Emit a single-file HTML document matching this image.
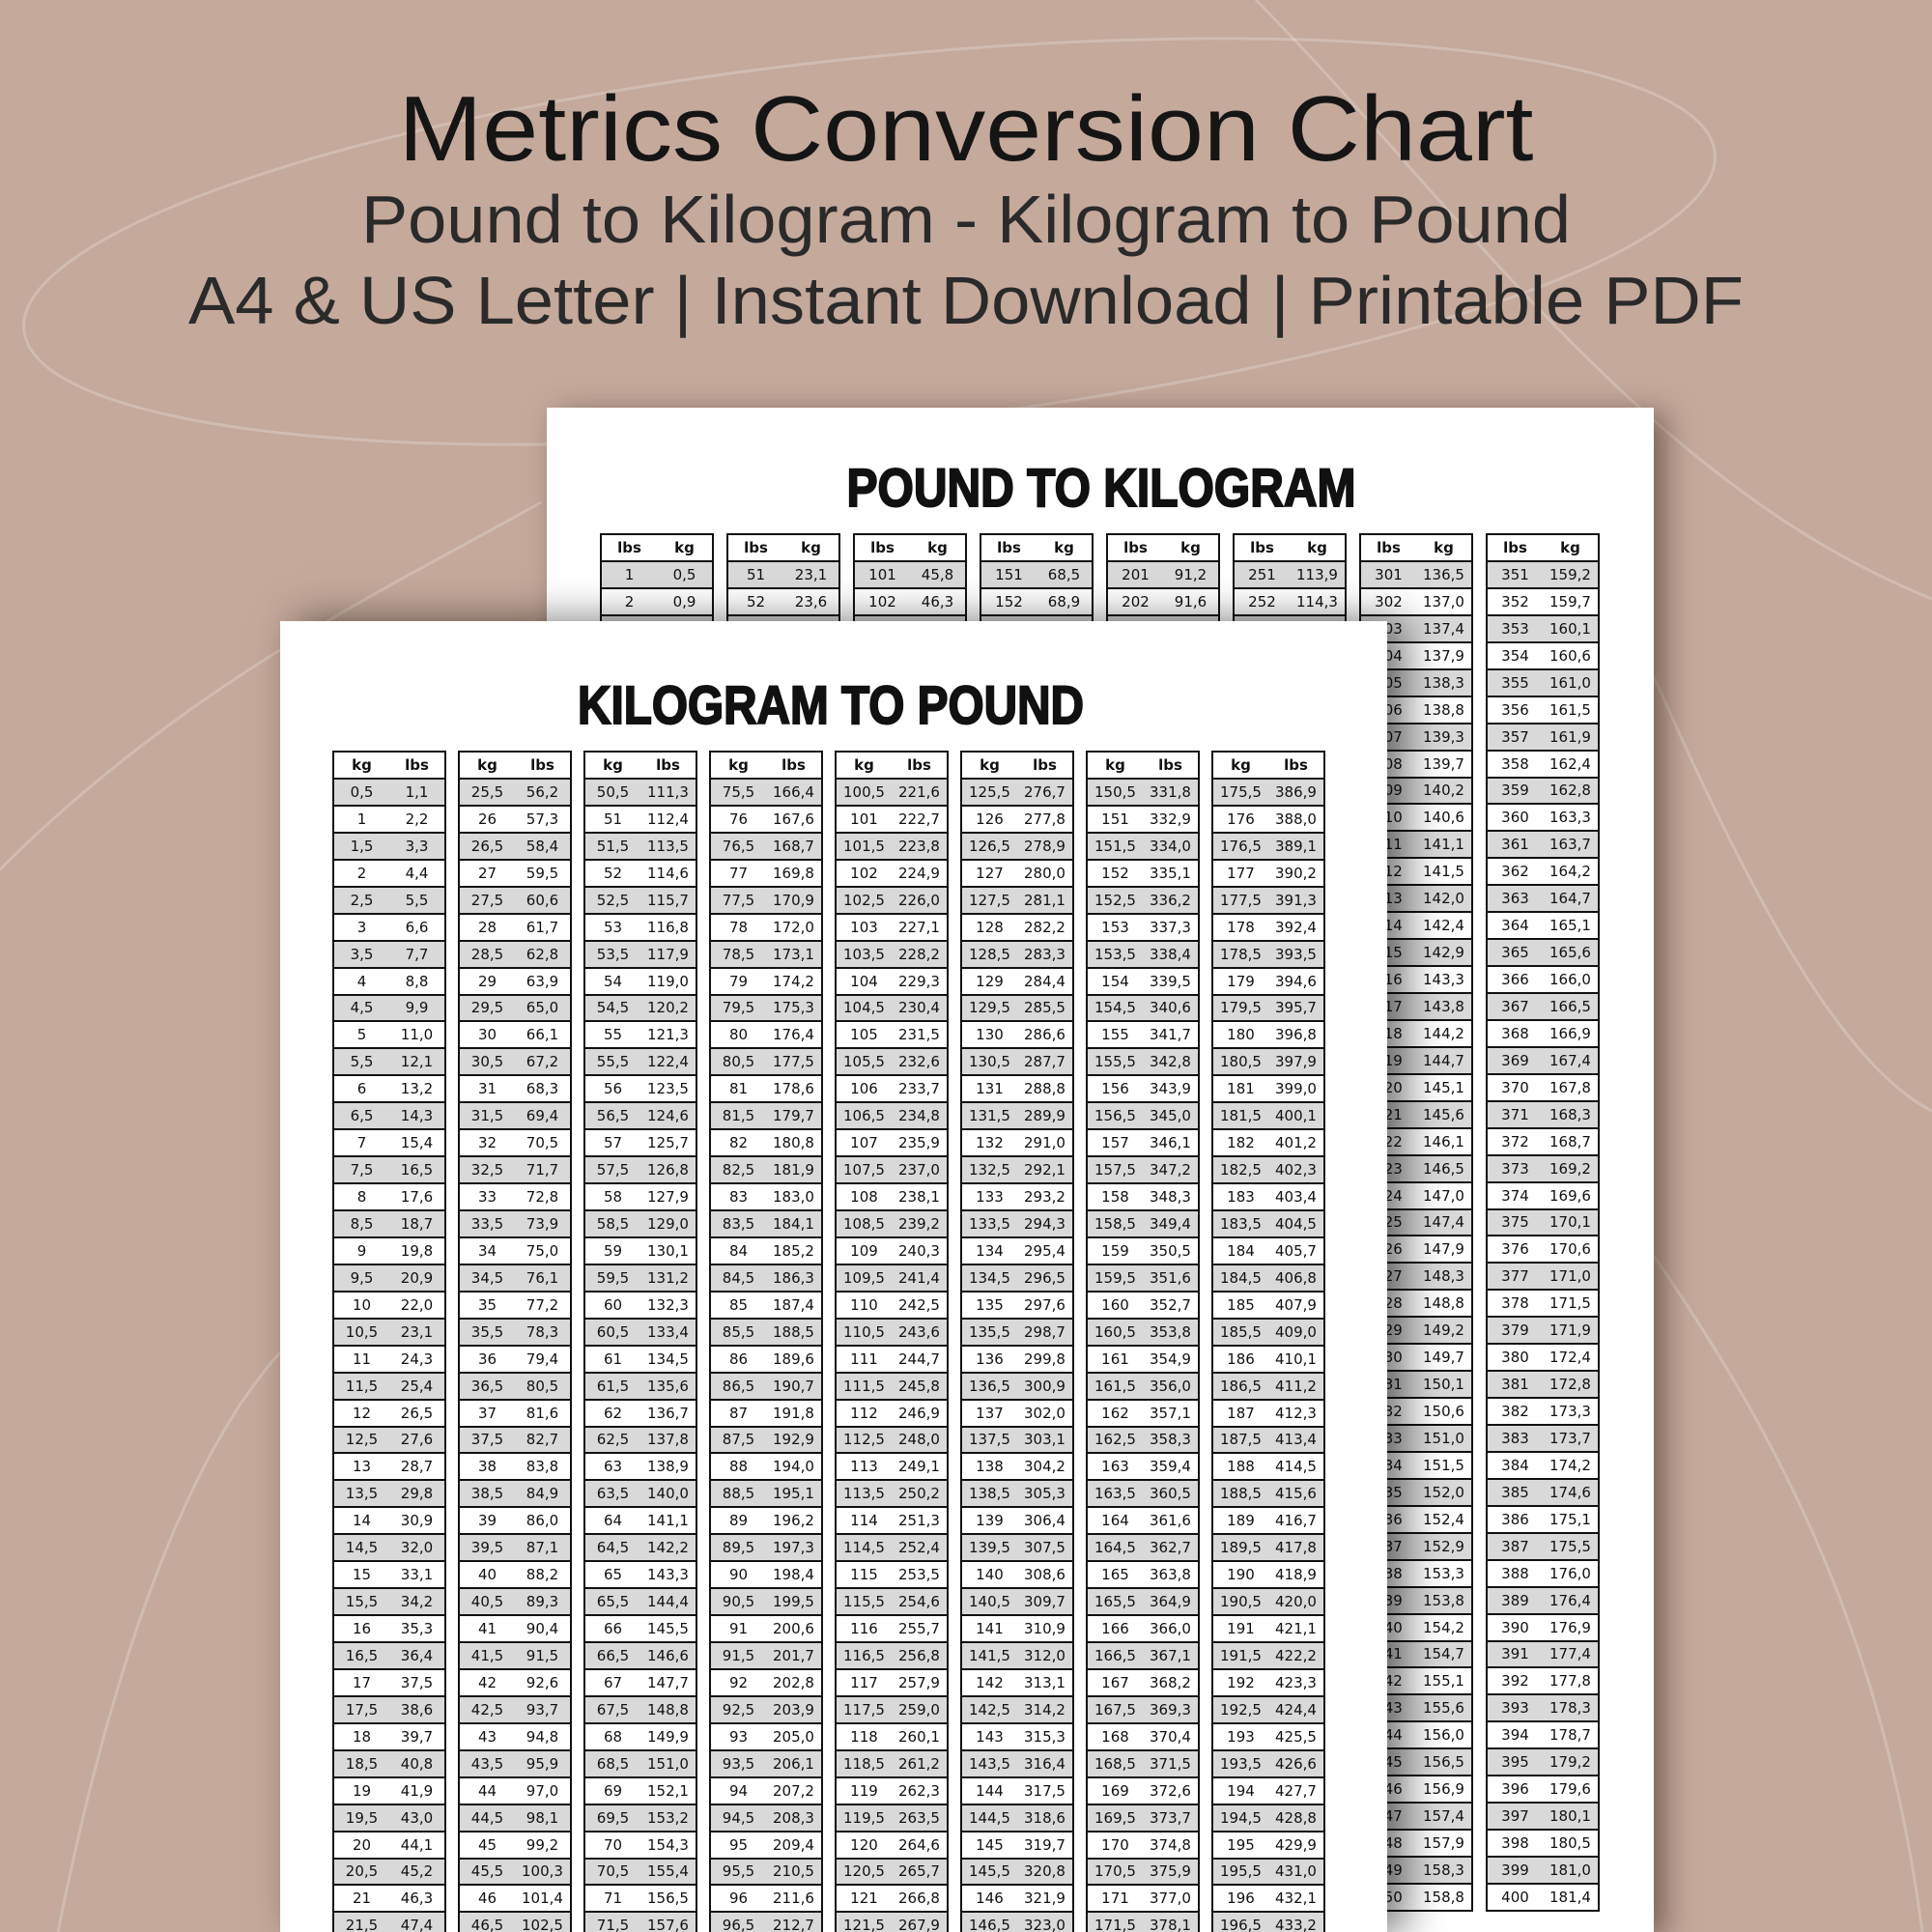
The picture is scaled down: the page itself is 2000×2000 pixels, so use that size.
<!DOCTYPE html>
<html><head><meta charset="utf-8">
<style>
html,body{margin:0;padding:0;overflow:hidden;width:2000px;height:2000px}
body{position:relative;background:#c5a99b;font-family:"DejaVu Sans","Liberation Sans",sans-serif;color:#111}
.pg{position:absolute;background:#fff}
.t{position:absolute;width:118px;box-sizing:border-box;border:2px solid #111;background:#fff;font-size:15px}
.t p{margin:0;display:flex;height:27.95px;box-sizing:border-box;border-top:2px solid #111;align-items:center}
.t p.h{border-top:0;height:26px;font-weight:bold}
.t p:nth-child(even){background:#d9d9d9}
.t i{font-style:normal;width:50%;text-align:center}
svg{position:absolute;left:0;top:0}
#wrap{position:absolute;left:0;top:0;width:2000px;height:2000px;overflow:hidden}
</style></head><body><div id="wrap">
<svg width="2000" height="2000" style="z-index:0">
<g fill="none" stroke="rgba(255,255,255,0.22)" stroke-width="3">
<ellipse cx="900" cy="250" rx="880" ry="190" transform="rotate(-6 900 250)"/>
<path d="M1300 0 C1500 200 1700 500 2000 620"/>
<path d="M0 900 C200 700 420 600 560 520"/>
<path d="M1712 700 C1800 900 1900 1100 2000 1150"/>
<path d="M1712 1300 C1850 1500 1950 1700 1990 2000"/>
<path d="M60 2000 C120 1700 200 1500 290 1400"/>
</g>
<text x="1000" y="166" font-family="Liberation Sans, sans-serif" font-size="96" fill="#151515" text-anchor="middle" textLength="1175" lengthAdjust="spacingAndGlyphs">Metrics Conversion Chart</text>
<text x="1000" y="251" font-family="Liberation Sans, sans-serif" font-size="70" fill="#2a2a2a" text-anchor="middle" textLength="1252" lengthAdjust="spacingAndGlyphs">Pound to Kilogram - Kilogram to Pound</text>
<text x="1000" y="335" font-family="Liberation Sans, sans-serif" font-size="70" fill="#2a2a2a" text-anchor="middle" textLength="1610" lengthAdjust="spacingAndGlyphs">A4 &amp; US Letter | Instant Download | Printable PDF</text>
</svg>

<div class="pg" style="left:566px;top:422px;width:1146px;height:1578px;box-shadow:12px 6px 28px rgba(60,40,30,0.55)"></div>
<svg width="2000" height="2000" style="z-index:0;pointer-events:none">
<text x="1140" y="524" font-family="Liberation Sans, sans-serif" font-weight="bold" font-size="56" fill="#111" text-anchor="middle" textLength="527" lengthAdjust="spacingAndGlyphs" stroke="#111" stroke-width="2">POUND TO KILOGRAM</text>
</svg>

<div class="t" style="left:621px;top:552px"><p class="h"><i>lbs</i><i>kg</i></p><p><i>1</i><i>0,5</i></p><p><i>2</i><i>0,9</i></p><p><i>3</i><i>1,4</i></p></div>
<div class="t" style="left:752px;top:552px"><p class="h"><i>lbs</i><i>kg</i></p><p><i>51</i><i>23,1</i></p><p><i>52</i><i>23,6</i></p><p><i>53</i><i>24,0</i></p></div>
<div class="t" style="left:883px;top:552px"><p class="h"><i>lbs</i><i>kg</i></p><p><i>101</i><i>45,8</i></p><p><i>102</i><i>46,3</i></p><p><i>103</i><i>46,7</i></p></div>
<div class="t" style="left:1014px;top:552px"><p class="h"><i>lbs</i><i>kg</i></p><p><i>151</i><i>68,5</i></p><p><i>152</i><i>68,9</i></p><p><i>153</i><i>69,4</i></p></div>
<div class="t" style="left:1145px;top:552px"><p class="h"><i>lbs</i><i>kg</i></p><p><i>201</i><i>91,2</i></p><p><i>202</i><i>91,6</i></p><p><i>203</i><i>92,1</i></p></div>
<div class="t" style="left:1276px;top:552px"><p class="h"><i>lbs</i><i>kg</i></p><p><i>251</i><i>113,9</i></p><p><i>252</i><i>114,3</i></p><p><i>253</i><i>114,8</i></p></div>
<div class="t" style="left:1407px;top:552px"><p class="h"><i>lbs</i><i>kg</i></p>
<p><i>301</i><i>136,5</i></p><p><i>302</i><i>137,0</i></p><p><i>303</i><i>137,4</i></p><p><i>304</i><i>137,9</i></p><p><i>305</i><i>138,3</i></p><p><i>306</i><i>138,8</i></p><p><i>307</i><i>139,3</i></p><p><i>308</i><i>139,7</i></p><p><i>309</i><i>140,2</i></p><p><i>310</i><i>140,6</i></p><p><i>311</i><i>141,1</i></p><p><i>312</i><i>141,5</i></p><p><i>313</i><i>142,0</i></p><p><i>314</i><i>142,4</i></p><p><i>315</i><i>142,9</i></p><p><i>316</i><i>143,3</i></p><p><i>317</i><i>143,8</i></p><p><i>318</i><i>144,2</i></p><p><i>319</i><i>144,7</i></p><p><i>320</i><i>145,1</i></p><p><i>321</i><i>145,6</i></p><p><i>322</i><i>146,1</i></p><p><i>323</i><i>146,5</i></p><p><i>324</i><i>147,0</i></p><p><i>325</i><i>147,4</i></p><p><i>326</i><i>147,9</i></p><p><i>327</i><i>148,3</i></p><p><i>328</i><i>148,8</i></p><p><i>329</i><i>149,2</i></p><p><i>330</i><i>149,7</i></p><p><i>331</i><i>150,1</i></p><p><i>332</i><i>150,6</i></p><p><i>333</i><i>151,0</i></p><p><i>334</i><i>151,5</i></p><p><i>335</i><i>152,0</i></p><p><i>336</i><i>152,4</i></p><p><i>337</i><i>152,9</i></p><p><i>338</i><i>153,3</i></p><p><i>339</i><i>153,8</i></p><p><i>340</i><i>154,2</i></p><p><i>341</i><i>154,7</i></p><p><i>342</i><i>155,1</i></p><p><i>343</i><i>155,6</i></p><p><i>344</i><i>156,0</i></p><p><i>345</i><i>156,5</i></p><p><i>346</i><i>156,9</i></p><p><i>347</i><i>157,4</i></p><p><i>348</i><i>157,9</i></p><p><i>349</i><i>158,3</i></p><p><i>350</i><i>158,8</i></p></div>
<div class="t" style="left:1538px;top:552px"><p class="h"><i>lbs</i><i>kg</i></p>
<p><i>351</i><i>159,2</i></p><p><i>352</i><i>159,7</i></p><p><i>353</i><i>160,1</i></p><p><i>354</i><i>160,6</i></p><p><i>355</i><i>161,0</i></p><p><i>356</i><i>161,5</i></p><p><i>357</i><i>161,9</i></p><p><i>358</i><i>162,4</i></p><p><i>359</i><i>162,8</i></p><p><i>360</i><i>163,3</i></p><p><i>361</i><i>163,7</i></p><p><i>362</i><i>164,2</i></p><p><i>363</i><i>164,7</i></p><p><i>364</i><i>165,1</i></p><p><i>365</i><i>165,6</i></p><p><i>366</i><i>166,0</i></p><p><i>367</i><i>166,5</i></p><p><i>368</i><i>166,9</i></p><p><i>369</i><i>167,4</i></p><p><i>370</i><i>167,8</i></p><p><i>371</i><i>168,3</i></p><p><i>372</i><i>168,7</i></p><p><i>373</i><i>169,2</i></p><p><i>374</i><i>169,6</i></p><p><i>375</i><i>170,1</i></p><p><i>376</i><i>170,6</i></p><p><i>377</i><i>171,0</i></p><p><i>378</i><i>171,5</i></p><p><i>379</i><i>171,9</i></p><p><i>380</i><i>172,4</i></p><p><i>381</i><i>172,8</i></p><p><i>382</i><i>173,3</i></p><p><i>383</i><i>173,7</i></p><p><i>384</i><i>174,2</i></p><p><i>385</i><i>174,6</i></p><p><i>386</i><i>175,1</i></p><p><i>387</i><i>175,5</i></p><p><i>388</i><i>176,0</i></p><p><i>389</i><i>176,4</i></p><p><i>390</i><i>176,9</i></p><p><i>391</i><i>177,4</i></p><p><i>392</i><i>177,8</i></p><p><i>393</i><i>178,3</i></p><p><i>394</i><i>178,7</i></p><p><i>395</i><i>179,2</i></p><p><i>396</i><i>179,6</i></p><p><i>397</i><i>180,1</i></p><p><i>398</i><i>180,5</i></p><p><i>399</i><i>181,0</i></p><p><i>400</i><i>181,4</i></p></div>

<div class="pg" style="left:290px;top:643px;width:1146px;height:1357px;box-shadow:18px 0 40px rgba(0,0,0,0.55)"></div>
<svg width="2000" height="2000" style="pointer-events:none">
<text x="860" y="749" font-family="Liberation Sans, sans-serif" font-weight="bold" font-size="56" fill="#111" text-anchor="middle" textLength="524" lengthAdjust="spacingAndGlyphs" stroke="#111" stroke-width="2">KILOGRAM TO POUND</text>
</svg>

<div class="t" style="left:344px;top:777px"><p class="h"><i>kg</i><i>lbs</i></p>
<p><i>0,5</i><i>1,1</i></p><p><i>1</i><i>2,2</i></p><p><i>1,5</i><i>3,3</i></p><p><i>2</i><i>4,4</i></p><p><i>2,5</i><i>5,5</i></p><p><i>3</i><i>6,6</i></p><p><i>3,5</i><i>7,7</i></p><p><i>4</i><i>8,8</i></p><p><i>4,5</i><i>9,9</i></p><p><i>5</i><i>11,0</i></p><p><i>5,5</i><i>12,1</i></p><p><i>6</i><i>13,2</i></p><p><i>6,5</i><i>14,3</i></p><p><i>7</i><i>15,4</i></p><p><i>7,5</i><i>16,5</i></p><p><i>8</i><i>17,6</i></p><p><i>8,5</i><i>18,7</i></p><p><i>9</i><i>19,8</i></p><p><i>9,5</i><i>20,9</i></p><p><i>10</i><i>22,0</i></p><p><i>10,5</i><i>23,1</i></p><p><i>11</i><i>24,3</i></p><p><i>11,5</i><i>25,4</i></p><p><i>12</i><i>26,5</i></p><p><i>12,5</i><i>27,6</i></p><p><i>13</i><i>28,7</i></p><p><i>13,5</i><i>29,8</i></p><p><i>14</i><i>30,9</i></p><p><i>14,5</i><i>32,0</i></p><p><i>15</i><i>33,1</i></p><p><i>15,5</i><i>34,2</i></p><p><i>16</i><i>35,3</i></p><p><i>16,5</i><i>36,4</i></p><p><i>17</i><i>37,5</i></p><p><i>17,5</i><i>38,6</i></p><p><i>18</i><i>39,7</i></p><p><i>18,5</i><i>40,8</i></p><p><i>19</i><i>41,9</i></p><p><i>19,5</i><i>43,0</i></p><p><i>20</i><i>44,1</i></p><p><i>20,5</i><i>45,2</i></p><p><i>21</i><i>46,3</i></p><p><i>21,5</i><i>47,4</i></p></div>
<div class="t" style="left:474px;top:777px"><p class="h"><i>kg</i><i>lbs</i></p>
<p><i>25,5</i><i>56,2</i></p><p><i>26</i><i>57,3</i></p><p><i>26,5</i><i>58,4</i></p><p><i>27</i><i>59,5</i></p><p><i>27,5</i><i>60,6</i></p><p><i>28</i><i>61,7</i></p><p><i>28,5</i><i>62,8</i></p><p><i>29</i><i>63,9</i></p><p><i>29,5</i><i>65,0</i></p><p><i>30</i><i>66,1</i></p><p><i>30,5</i><i>67,2</i></p><p><i>31</i><i>68,3</i></p><p><i>31,5</i><i>69,4</i></p><p><i>32</i><i>70,5</i></p><p><i>32,5</i><i>71,7</i></p><p><i>33</i><i>72,8</i></p><p><i>33,5</i><i>73,9</i></p><p><i>34</i><i>75,0</i></p><p><i>34,5</i><i>76,1</i></p><p><i>35</i><i>77,2</i></p><p><i>35,5</i><i>78,3</i></p><p><i>36</i><i>79,4</i></p><p><i>36,5</i><i>80,5</i></p><p><i>37</i><i>81,6</i></p><p><i>37,5</i><i>82,7</i></p><p><i>38</i><i>83,8</i></p><p><i>38,5</i><i>84,9</i></p><p><i>39</i><i>86,0</i></p><p><i>39,5</i><i>87,1</i></p><p><i>40</i><i>88,2</i></p><p><i>40,5</i><i>89,3</i></p><p><i>41</i><i>90,4</i></p><p><i>41,5</i><i>91,5</i></p><p><i>42</i><i>92,6</i></p><p><i>42,5</i><i>93,7</i></p><p><i>43</i><i>94,8</i></p><p><i>43,5</i><i>95,9</i></p><p><i>44</i><i>97,0</i></p><p><i>44,5</i><i>98,1</i></p><p><i>45</i><i>99,2</i></p><p><i>45,5</i><i>100,3</i></p><p><i>46</i><i>101,4</i></p><p><i>46,5</i><i>102,5</i></p></div>
<div class="t" style="left:604px;top:777px"><p class="h"><i>kg</i><i>lbs</i></p>
<p><i>50,5</i><i>111,3</i></p><p><i>51</i><i>112,4</i></p><p><i>51,5</i><i>113,5</i></p><p><i>52</i><i>114,6</i></p><p><i>52,5</i><i>115,7</i></p><p><i>53</i><i>116,8</i></p><p><i>53,5</i><i>117,9</i></p><p><i>54</i><i>119,0</i></p><p><i>54,5</i><i>120,2</i></p><p><i>55</i><i>121,3</i></p><p><i>55,5</i><i>122,4</i></p><p><i>56</i><i>123,5</i></p><p><i>56,5</i><i>124,6</i></p><p><i>57</i><i>125,7</i></p><p><i>57,5</i><i>126,8</i></p><p><i>58</i><i>127,9</i></p><p><i>58,5</i><i>129,0</i></p><p><i>59</i><i>130,1</i></p><p><i>59,5</i><i>131,2</i></p><p><i>60</i><i>132,3</i></p><p><i>60,5</i><i>133,4</i></p><p><i>61</i><i>134,5</i></p><p><i>61,5</i><i>135,6</i></p><p><i>62</i><i>136,7</i></p><p><i>62,5</i><i>137,8</i></p><p><i>63</i><i>138,9</i></p><p><i>63,5</i><i>140,0</i></p><p><i>64</i><i>141,1</i></p><p><i>64,5</i><i>142,2</i></p><p><i>65</i><i>143,3</i></p><p><i>65,5</i><i>144,4</i></p><p><i>66</i><i>145,5</i></p><p><i>66,5</i><i>146,6</i></p><p><i>67</i><i>147,7</i></p><p><i>67,5</i><i>148,8</i></p><p><i>68</i><i>149,9</i></p><p><i>68,5</i><i>151,0</i></p><p><i>69</i><i>152,1</i></p><p><i>69,5</i><i>153,2</i></p><p><i>70</i><i>154,3</i></p><p><i>70,5</i><i>155,4</i></p><p><i>71</i><i>156,5</i></p><p><i>71,5</i><i>157,6</i></p></div>
<div class="t" style="left:734px;top:777px"><p class="h"><i>kg</i><i>lbs</i></p>
<p><i>75,5</i><i>166,4</i></p><p><i>76</i><i>167,6</i></p><p><i>76,5</i><i>168,7</i></p><p><i>77</i><i>169,8</i></p><p><i>77,5</i><i>170,9</i></p><p><i>78</i><i>172,0</i></p><p><i>78,5</i><i>173,1</i></p><p><i>79</i><i>174,2</i></p><p><i>79,5</i><i>175,3</i></p><p><i>80</i><i>176,4</i></p><p><i>80,5</i><i>177,5</i></p><p><i>81</i><i>178,6</i></p><p><i>81,5</i><i>179,7</i></p><p><i>82</i><i>180,8</i></p><p><i>82,5</i><i>181,9</i></p><p><i>83</i><i>183,0</i></p><p><i>83,5</i><i>184,1</i></p><p><i>84</i><i>185,2</i></p><p><i>84,5</i><i>186,3</i></p><p><i>85</i><i>187,4</i></p><p><i>85,5</i><i>188,5</i></p><p><i>86</i><i>189,6</i></p><p><i>86,5</i><i>190,7</i></p><p><i>87</i><i>191,8</i></p><p><i>87,5</i><i>192,9</i></p><p><i>88</i><i>194,0</i></p><p><i>88,5</i><i>195,1</i></p><p><i>89</i><i>196,2</i></p><p><i>89,5</i><i>197,3</i></p><p><i>90</i><i>198,4</i></p><p><i>90,5</i><i>199,5</i></p><p><i>91</i><i>200,6</i></p><p><i>91,5</i><i>201,7</i></p><p><i>92</i><i>202,8</i></p><p><i>92,5</i><i>203,9</i></p><p><i>93</i><i>205,0</i></p><p><i>93,5</i><i>206,1</i></p><p><i>94</i><i>207,2</i></p><p><i>94,5</i><i>208,3</i></p><p><i>95</i><i>209,4</i></p><p><i>95,5</i><i>210,5</i></p><p><i>96</i><i>211,6</i></p><p><i>96,5</i><i>212,7</i></p></div>
<div class="t" style="left:864px;top:777px"><p class="h"><i>kg</i><i>lbs</i></p>
<p><i>100,5</i><i>221,6</i></p><p><i>101</i><i>222,7</i></p><p><i>101,5</i><i>223,8</i></p><p><i>102</i><i>224,9</i></p><p><i>102,5</i><i>226,0</i></p><p><i>103</i><i>227,1</i></p><p><i>103,5</i><i>228,2</i></p><p><i>104</i><i>229,3</i></p><p><i>104,5</i><i>230,4</i></p><p><i>105</i><i>231,5</i></p><p><i>105,5</i><i>232,6</i></p><p><i>106</i><i>233,7</i></p><p><i>106,5</i><i>234,8</i></p><p><i>107</i><i>235,9</i></p><p><i>107,5</i><i>237,0</i></p><p><i>108</i><i>238,1</i></p><p><i>108,5</i><i>239,2</i></p><p><i>109</i><i>240,3</i></p><p><i>109,5</i><i>241,4</i></p><p><i>110</i><i>242,5</i></p><p><i>110,5</i><i>243,6</i></p><p><i>111</i><i>244,7</i></p><p><i>111,5</i><i>245,8</i></p><p><i>112</i><i>246,9</i></p><p><i>112,5</i><i>248,0</i></p><p><i>113</i><i>249,1</i></p><p><i>113,5</i><i>250,2</i></p><p><i>114</i><i>251,3</i></p><p><i>114,5</i><i>252,4</i></p><p><i>115</i><i>253,5</i></p><p><i>115,5</i><i>254,6</i></p><p><i>116</i><i>255,7</i></p><p><i>116,5</i><i>256,8</i></p><p><i>117</i><i>257,9</i></p><p><i>117,5</i><i>259,0</i></p><p><i>118</i><i>260,1</i></p><p><i>118,5</i><i>261,2</i></p><p><i>119</i><i>262,3</i></p><p><i>119,5</i><i>263,5</i></p><p><i>120</i><i>264,6</i></p><p><i>120,5</i><i>265,7</i></p><p><i>121</i><i>266,8</i></p><p><i>121,5</i><i>267,9</i></p></div>
<div class="t" style="left:994px;top:777px"><p class="h"><i>kg</i><i>lbs</i></p>
<p><i>125,5</i><i>276,7</i></p><p><i>126</i><i>277,8</i></p><p><i>126,5</i><i>278,9</i></p><p><i>127</i><i>280,0</i></p><p><i>127,5</i><i>281,1</i></p><p><i>128</i><i>282,2</i></p><p><i>128,5</i><i>283,3</i></p><p><i>129</i><i>284,4</i></p><p><i>129,5</i><i>285,5</i></p><p><i>130</i><i>286,6</i></p><p><i>130,5</i><i>287,7</i></p><p><i>131</i><i>288,8</i></p><p><i>131,5</i><i>289,9</i></p><p><i>132</i><i>291,0</i></p><p><i>132,5</i><i>292,1</i></p><p><i>133</i><i>293,2</i></p><p><i>133,5</i><i>294,3</i></p><p><i>134</i><i>295,4</i></p><p><i>134,5</i><i>296,5</i></p><p><i>135</i><i>297,6</i></p><p><i>135,5</i><i>298,7</i></p><p><i>136</i><i>299,8</i></p><p><i>136,5</i><i>300,9</i></p><p><i>137</i><i>302,0</i></p><p><i>137,5</i><i>303,1</i></p><p><i>138</i><i>304,2</i></p><p><i>138,5</i><i>305,3</i></p><p><i>139</i><i>306,4</i></p><p><i>139,5</i><i>307,5</i></p><p><i>140</i><i>308,6</i></p><p><i>140,5</i><i>309,7</i></p><p><i>141</i><i>310,9</i></p><p><i>141,5</i><i>312,0</i></p><p><i>142</i><i>313,1</i></p><p><i>142,5</i><i>314,2</i></p><p><i>143</i><i>315,3</i></p><p><i>143,5</i><i>316,4</i></p><p><i>144</i><i>317,5</i></p><p><i>144,5</i><i>318,6</i></p><p><i>145</i><i>319,7</i></p><p><i>145,5</i><i>320,8</i></p><p><i>146</i><i>321,9</i></p><p><i>146,5</i><i>323,0</i></p></div>
<div class="t" style="left:1124px;top:777px"><p class="h"><i>kg</i><i>lbs</i></p>
<p><i>150,5</i><i>331,8</i></p><p><i>151</i><i>332,9</i></p><p><i>151,5</i><i>334,0</i></p><p><i>152</i><i>335,1</i></p><p><i>152,5</i><i>336,2</i></p><p><i>153</i><i>337,3</i></p><p><i>153,5</i><i>338,4</i></p><p><i>154</i><i>339,5</i></p><p><i>154,5</i><i>340,6</i></p><p><i>155</i><i>341,7</i></p><p><i>155,5</i><i>342,8</i></p><p><i>156</i><i>343,9</i></p><p><i>156,5</i><i>345,0</i></p><p><i>157</i><i>346,1</i></p><p><i>157,5</i><i>347,2</i></p><p><i>158</i><i>348,3</i></p><p><i>158,5</i><i>349,4</i></p><p><i>159</i><i>350,5</i></p><p><i>159,5</i><i>351,6</i></p><p><i>160</i><i>352,7</i></p><p><i>160,5</i><i>353,8</i></p><p><i>161</i><i>354,9</i></p><p><i>161,5</i><i>356,0</i></p><p><i>162</i><i>357,1</i></p><p><i>162,5</i><i>358,3</i></p><p><i>163</i><i>359,4</i></p><p><i>163,5</i><i>360,5</i></p><p><i>164</i><i>361,6</i></p><p><i>164,5</i><i>362,7</i></p><p><i>165</i><i>363,8</i></p><p><i>165,5</i><i>364,9</i></p><p><i>166</i><i>366,0</i></p><p><i>166,5</i><i>367,1</i></p><p><i>167</i><i>368,2</i></p><p><i>167,5</i><i>369,3</i></p><p><i>168</i><i>370,4</i></p><p><i>168,5</i><i>371,5</i></p><p><i>169</i><i>372,6</i></p><p><i>169,5</i><i>373,7</i></p><p><i>170</i><i>374,8</i></p><p><i>170,5</i><i>375,9</i></p><p><i>171</i><i>377,0</i></p><p><i>171,5</i><i>378,1</i></p></div>
<div class="t" style="left:1254px;top:777px"><p class="h"><i>kg</i><i>lbs</i></p>
<p><i>175,5</i><i>386,9</i></p><p><i>176</i><i>388,0</i></p><p><i>176,5</i><i>389,1</i></p><p><i>177</i><i>390,2</i></p><p><i>177,5</i><i>391,3</i></p><p><i>178</i><i>392,4</i></p><p><i>178,5</i><i>393,5</i></p><p><i>179</i><i>394,6</i></p><p><i>179,5</i><i>395,7</i></p><p><i>180</i><i>396,8</i></p><p><i>180,5</i><i>397,9</i></p><p><i>181</i><i>399,0</i></p><p><i>181,5</i><i>400,1</i></p><p><i>182</i><i>401,2</i></p><p><i>182,5</i><i>402,3</i></p><p><i>183</i><i>403,4</i></p><p><i>183,5</i><i>404,5</i></p><p><i>184</i><i>405,7</i></p><p><i>184,5</i><i>406,8</i></p><p><i>185</i><i>407,9</i></p><p><i>185,5</i><i>409,0</i></p><p><i>186</i><i>410,1</i></p><p><i>186,5</i><i>411,2</i></p><p><i>187</i><i>412,3</i></p><p><i>187,5</i><i>413,4</i></p><p><i>188</i><i>414,5</i></p><p><i>188,5</i><i>415,6</i></p><p><i>189</i><i>416,7</i></p><p><i>189,5</i><i>417,8</i></p><p><i>190</i><i>418,9</i></p><p><i>190,5</i><i>420,0</i></p><p><i>191</i><i>421,1</i></p><p><i>191,5</i><i>422,2</i></p><p><i>192</i><i>423,3</i></p><p><i>192,5</i><i>424,4</i></p><p><i>193</i><i>425,5</i></p><p><i>193,5</i><i>426,6</i></p><p><i>194</i><i>427,7</i></p><p><i>194,5</i><i>428,8</i></p><p><i>195</i><i>429,9</i></p><p><i>195,5</i><i>431,0</i></p><p><i>196</i><i>432,1</i></p><p><i>196,5</i><i>433,2</i></p></div>
</div></body></html>
